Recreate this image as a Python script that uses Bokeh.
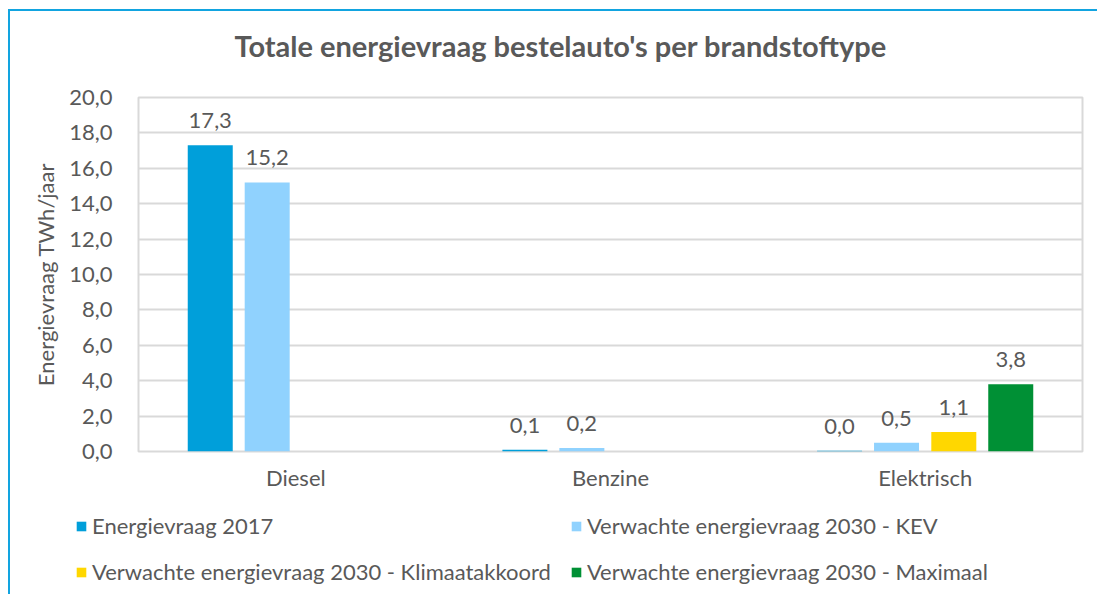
from bokeh.plotting import figure
from bokeh.layouts import column
from bokeh.models import (FactorRange, Range1d, ColumnDataSource, Legend, LegendItem,
                          FixedTicker, CustomJSTickFormatter, Title)
from bokeh.transform import dodge
from bokeh.core.properties import value
from bokeh.embed import file_html
from bokeh.resources import INLINE

# ---- data ----
categories = ["Diesel", "Benzine", "Elektrisch"]
series_names = [
    "Energievraag 2017",
    "Verwachte energievraag 2030 - KEV",
    "Verwachte energievraag 2030 - Klimaatakkoord",
    "Verwachte energievraag 2030 - Maximaal",
]
energie_2017 = [17.3, 0.1, 0.04]
kev_2030 = [15.2, 0.2, 0.5]
klimaat_2030 = [None, None, 1.1]
maximaal_2030 = [None, None, 3.8]
y_ticks = [0, 2, 4, 6, 8, 10, 12, 14, 16, 18, 20]

title_text = "Totale energievraag bestelauto's per brandstoftype"
y_label = "Energievraag TWh/jaar"

# ---- styles ----
colors = ["#009fda", "#90d2fe", "#ffd700", "#009035"]
offsets = [-0.272, -0.091, 0.091, 0.272]
bar_width = 0.143
FONT = "Lato"
TXT = "#595959"
GRID = "#d9d9d9"
FS = "22px"
BLUE_FRAME = "#12a4e0"

p = figure(
    x_range=FactorRange(*categories, range_padding=0),
    y_range=Range1d(0, 20),
    output_backend="svg", toolbar_location=None,
    min_border_left=128, min_border_right=15, min_border_top=86, min_border_bottom=50,
    frame_width=944, frame_height=354,
)
p.title = None
# spacer (innermost) then the real title
spacer = Title(text=" ", text_font=FONT, text_font_size="10px", standoff=21)
p.add_layout(spacer, "above")
t = Title(text=title_text, align="left", offset=96, text_font=FONT,
          text_font_size="29px", text_font_style="bold", text_color=TXT, standoff=0)
p.add_layout(t, "above")

p.outline_line_color = GRID
p.outline_line_width = 2
p.xgrid.grid_line_color = None
p.ygrid.grid_line_color = GRID
p.ygrid.grid_line_width = 2

p.yaxis.ticker = FixedTicker(ticks=y_ticks)
p.yaxis.formatter = CustomJSTickFormatter(code="return tick.toFixed(1).replace('.', ',');")
for ax in (p.xaxis[0], p.yaxis[0]):
    ax.axis_line_color = None
    ax.major_tick_line_color = None
    ax.minor_tick_line_color = None
    ax.major_label_text_font = FONT
    ax.major_label_text_font_size = FS
    ax.major_label_text_color = TXT
p.yaxis.major_label_standoff = 20
p.xaxis.major_label_standoff = 6
p.yaxis.axis_label = y_label
p.yaxis.axis_label_text_font = FONT
p.yaxis.axis_label_text_font_size = FS
p.yaxis.axis_label_text_font_style = "normal"
p.yaxis.axis_label_text_color = TXT
p.yaxis.axis_label_standoff = 7

all_values = [energie_2017, kev_2030, klimaat_2030, maximaal_2030]
for i, vals in enumerate(all_values):
    cats = [c for c, v in zip(categories, vals) if v is not None]
    vv = [v for v in vals if v is not None]
    src = ColumnDataSource(dict(
        cat=cats, val=vv,
        lbl=[f"{v:.1f}".replace(".", ",") for v in vv],
    ))
    p.vbar(x=dodge("cat", offsets[i], range=p.x_range), top="val", width=bar_width,
           source=src, fill_color=colors[i], line_color=None)
    p.text(x=dodge("cat", offsets[i], range=p.x_range), y="val", text="lbl", source=src,
           text_align="center", text_baseline="bottom", y_offset=-17,
           text_font=value(FONT), text_font_size=FS, text_color=TXT)

# ---- legend strip (separate figure below, same width) ----
LEG_W, LEG_H = 1087, 93
q = figure(
    x_range=Range1d(0, LEG_W), y_range=Range1d(0, LEG_H),
    output_backend="svg", toolbar_location=None,
    min_border_left=0, min_border_right=0, min_border_top=0, min_border_bottom=0,
    frame_width=LEG_W, frame_height=LEG_H,
)
q.axis.visible = False
q.grid.visible = False
q.outline_line_color = None

# legend swatch renderers (one point each, kept outside the visible strip)
swatches = []
for i in range(len(series_names)):
    swatches.append(q.vbar(x=[-100], top=[-50], bottom=[-60], width=1,
                           fill_color=colors[i], line_color=None))

# legend fills column by column: order so rows read (2017, KEV) / (Klimaat, Maximaal)
legend_order = [0, 2, 1, 3]
items = [LegendItem(label=series_names[k], renderers=[swatches[k]]) for k in legend_order]
legend = Legend(items=items, ncols=2, location=(65, 9),
                label_text_font=FONT, label_text_font_size=FS, label_text_color=TXT,
                glyph_width=12, glyph_height=12, label_standoff=5, label_height=26,
                spacing=19, padding=0, margin=0, border_line_color=None,
                background_fill_alpha=0)
q.add_layout(legend)

# small logo mark in the corner (decoration)
q.arc(x=[1046, 1055], y=[33, 33], radius=11, start_angle=0.7, end_angle=5.6,
      line_color="#f2d600", line_width=5)
q.arc(x=[1064], y=[32], radius=9, start_angle=0.7, end_angle=5.6,
      line_color="#c9c9c9", line_width=3)
q.scatter(x=[1075], y=[29], marker="triangle", size=11, fill_color="#1fa3e0",
          line_color=None)

layout = column(p, q, spacing=0,
                styles={"border-top": f"2px solid {BLUE_FRAME}",
                        "border-left": f"2px solid {BLUE_FRAME}",
                        "margin-left": "8px", "margin-top": "9px"})

open("out.html", "w").write(file_html(layout, INLINE))
